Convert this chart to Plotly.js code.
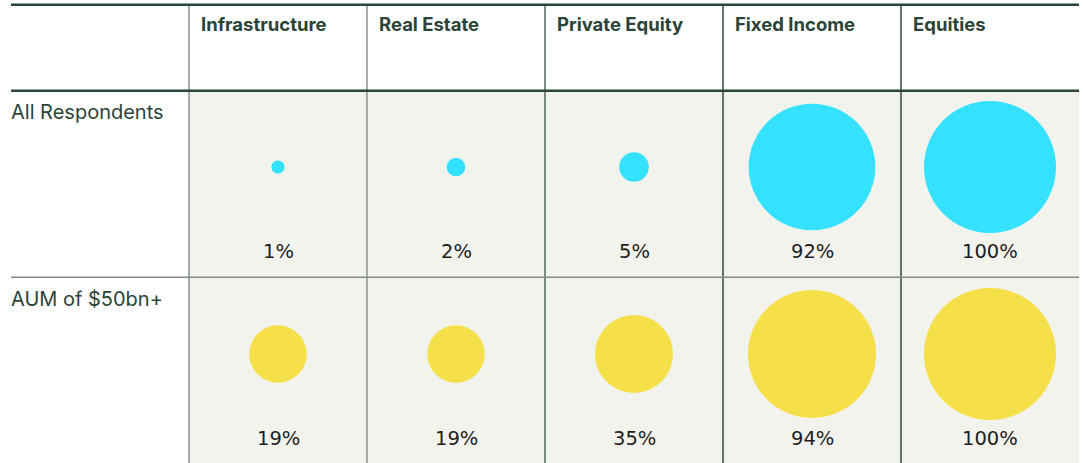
<!DOCTYPE html>
<html>
<head>
<meta charset="utf-8">
<script src="https://cdn.plot.ly/plotly-3.0.1.min.js"></script>
<style>
  html, body { margin: 0; padding: 0; background: #ffffff; }
  #chart { width: 1083px; height: 463px; }
</style>
</head>
<body>
<div id="chart"></div>
<script>
// ---- data ----
const categories = ["Infrastructure", "Real Estate", "Private Equity", "Fixed Income", "Equities"];
const rows = ["All Respondents", "AUM of $50bn+"];
const allRespondents = [1, 2, 5, 92, 100];
const aum50bn = [19, 19, 35, 94, 100];
const seriesValues = [allRespondents, aum50bn];
const seriesColors = ["#34e1fe", "#f5e04a"];

// ---- styling ----
const darkGreen = "#2b4438";
const cellBg = "#f3f3ee";
const maxDiameter = 132;
const sizeref = 2 * 100 / (maxDiameter * maxDiameter);

const traces = rows.map((r, ri) => ({
  type: "scatter",
  mode: "markers",
  x: categories,
  y: categories.map(() => r),
  marker: {
    size: seriesValues[ri],
    sizemode: "area",
    sizeref: sizeref,
    color: seriesColors[ri],
    line: { width: 0 },
    opacity: 1
  },
  hoverinfo: "skip",
  showlegend: false,
  cliponaxis: false
}));

const shapes = [];
// data cell background
shapes.push({ type: "rect", xref: "x", yref: "paper", x0: -0.5, x1: categories.length - 0.5,
  y0: 0, y1: 1 - 91.5 / 463, fillcolor: cellBg, line: { width: 0 }, layer: "below" });
// vertical dividers
const divColors = ["#87958e", "#87948d", "#55685e", "#34493e", "#34493e"];
for (let i = 0; i < categories.length; i++) {
  shapes.push({ type: "line", xref: "x", yref: "paper", x0: i - 0.5, x1: i - 0.5,
    y0: 0, y1: 1 - 4.5 / 463, line: { color: divColors[i], width: 1.5 }, layer: "above" });
}
// top and header lines
shapes.push({ type: "line", xref: "x", yref: "paper", x0: -1.5, x1: categories.length - 0.5,
  y0: 1 - 4.7 / 463, y1: 1 - 4.7 / 463, line: { color: darkGreen, width: 2.6 } });
shapes.push({ type: "line", xref: "x", yref: "paper", x0: -1.5, x1: categories.length - 0.5,
  y0: 1 - 90.7 / 463, y1: 1 - 90.7 / 463, line: { color: darkGreen, width: 2.6 } });
// row divider
shapes.push({ type: "line", xref: "x", yref: "paper", x0: -1.5, x1: categories.length - 0.5,
  y0: 1 - 277.3 / 463, y1: 1 - 277.3 / 463, line: { color: "#7f8c85", width: 1.5 } });

const annotations = [];
// column headers
categories.forEach(c => {
  annotations.push({ xref: "x", yref: "paper", x: c, y: 1 - 23.5 / 463, xanchor: "left", yanchor: "middle",
    xshift: -79, text: "<b>" + c + "</b>", showarrow: false,
    font: { family: "Inter, 'Noto Sans', sans-serif", size: 18.5, color: darkGreen } });
});
// row labels
rows.forEach(r => {
  annotations.push({ xref: "paper", yref: "y", x: 9 / 1083, y: r, xanchor: "left", yanchor: "middle",
    yshift: 55, text: r.replace("$", "&#36;"), showarrow: false,
    font: { family: "Inter, 'Noto Sans', sans-serif", size: 20, color: darkGreen } });
});
// percent labels
rows.forEach((r, ri) => {
  categories.forEach((c, ci) => {
    annotations.push({ xref: "x", yref: "y", x: c, y: r, xanchor: "center", yanchor: "middle",
      yshift: -84, text: seriesValues[ri][ci] + "%", showarrow: false,
      font: { family: "'DejaVu Sans', sans-serif", size: 19.5, color: "#1e1e1e" } });
  });
});

// axis ranges: category i centred at pixel 278 + 178*i; row j centred at 167 + 187*j
const xr = [(0 - 278) / 178, (1083 - 278) / 178];
const yr = [(463 - 167) / 187, (0 - 167) / 187];

const layout = {
  width: 1083,
  height: 463,
  margin: { l: 0, r: 0, t: 0, b: 0, pad: 0 },
  paper_bgcolor: "#ffffff",
  plot_bgcolor: "rgba(0,0,0,0)",
  xaxis: { type: "category", categoryarray: categories, categoryorder: "array", range: xr,
    showgrid: false, zeroline: false, showticklabels: false, ticks: "", showline: false, fixedrange: true },
  yaxis: { type: "category", categoryarray: rows, categoryorder: "array", range: yr,
    showgrid: false, zeroline: false, showticklabels: false, ticks: "", showline: false, fixedrange: true },
  shapes: shapes,
  annotations: annotations,
  showlegend: false,
  hovermode: false
};

Plotly.newPlot("chart", traces, layout, { staticPlot: true, displayModeBar: false });
</script>
</body>
</html>
